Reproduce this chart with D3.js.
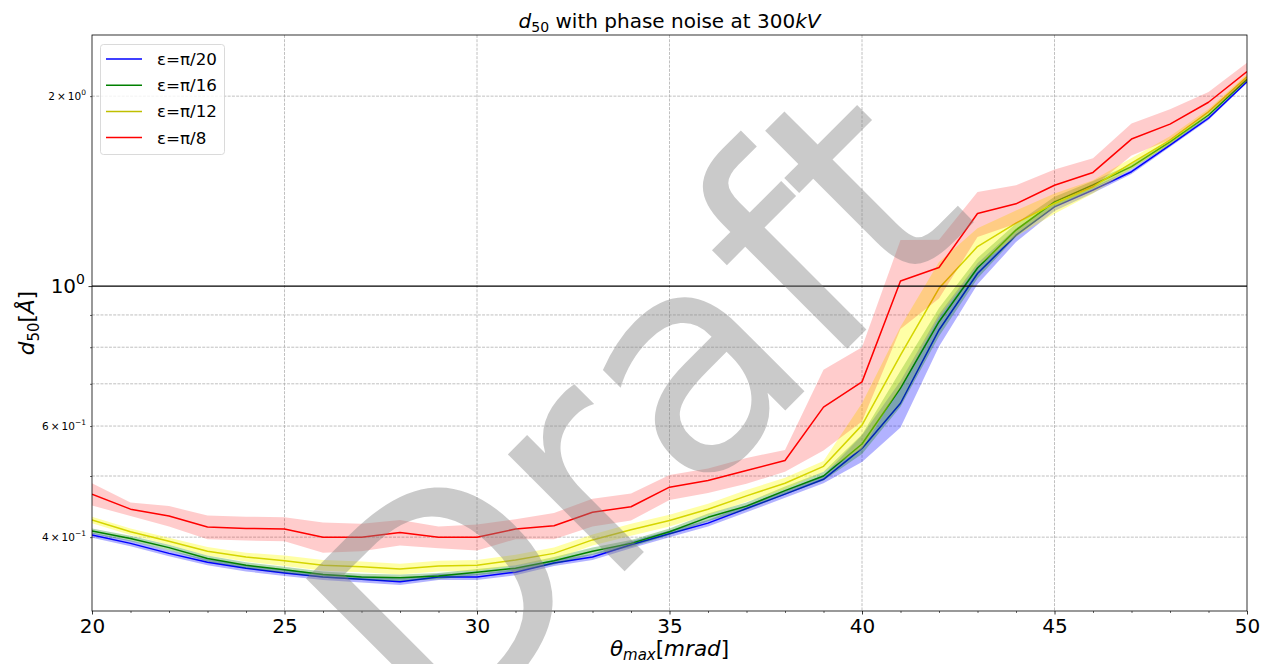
<!DOCTYPE html>
<html>
<head>
<meta charset="utf-8">
<script src="https://cdn.jsdelivr.net/npm/d3@7"></script>
<style>
  html, body { margin: 0; padding: 0; background: #fff; }
  svg { display: block; font-family: "DejaVu Sans", sans-serif; }
</style>
</head>
<body>
<svg id="chart" width="1272" height="664"></svg>
<script>
// Scattering angle cut-off, mrad
const thetaMax = [20, 21, 22, 23, 24, 25, 26, 27, 28, 29, 30, 31, 32, 33, 34, 35,
                  36, 37, 38, 39, 40, 41, 42, 43, 44, 45, 46, 47, 48, 49, 50];

// d50 mean and spread per phase-noise level
const meanPi20 = [0.403, 0.391, 0.377, 0.365, 0.357, 0.351, 0.346, 0.343, 0.340, 0.346, 0.346,
                  0.352, 0.364, 0.372, 0.389, 0.405, 0.421, 0.444, 0.468, 0.494, 0.553,
                  0.652, 0.852, 1.047, 1.204, 1.335, 1.420, 1.518, 1.673, 1.845, 2.108];
const stdPi20  = [0.004, 0.004, 0.004, 0.004, 0.004, 0.004, 0.004, 0.004, 0.004, 0.004, 0.004,
                  0.004, 0.004, 0.004, 0.005, 0.005, 0.005, 0.006, 0.006, 0.007, 0.027,
                  0.055, 0.050, 0.040, 0.030, 0.020, 0.015, 0.012, 0.012, 0.012, 0.010];

const meanPi16 = [0.409, 0.398, 0.385, 0.370, 0.361, 0.355, 0.349, 0.346, 0.345, 0.347, 0.352,
                  0.357, 0.367, 0.380, 0.391, 0.408, 0.430, 0.448, 0.474, 0.500, 0.562,
                  0.689, 0.878, 1.068, 1.227, 1.360, 1.447, 1.546, 1.693, 1.867, 2.127];
const stdPi16  = [0.004, 0.004, 0.004, 0.004, 0.004, 0.004, 0.004, 0.004, 0.004, 0.004, 0.004,
                  0.004, 0.005, 0.005, 0.005, 0.005, 0.006, 0.006, 0.007, 0.008, 0.020,
                  0.045, 0.045, 0.040, 0.030, 0.025, 0.020, 0.015, 0.015, 0.015, 0.015];

const meanPi12 = [0.426, 0.408, 0.394, 0.380, 0.372, 0.367, 0.361, 0.359, 0.356, 0.360, 0.361,
                  0.368, 0.377, 0.396, 0.411, 0.425, 0.443, 0.465, 0.487, 0.518, 0.602,
                  0.777, 0.992, 1.155, 1.258, 1.352, 1.437, 1.566, 1.703, 1.889, 2.147];
const stdPi12  = [0.005, 0.005, 0.005, 0.006, 0.006, 0.007, 0.007, 0.007, 0.007, 0.007, 0.007,
                  0.007, 0.008, 0.008, 0.009, 0.009, 0.009, 0.010, 0.010, 0.010, 0.050,
                  0.085, 0.100, 0.080, 0.060, 0.050, 0.035, 0.030, 0.025, 0.020, 0.020];

const meanPi8  = [0.468, 0.443, 0.432, 0.415, 0.413, 0.412, 0.400, 0.400, 0.407, 0.400, 0.400,
                  0.412, 0.417, 0.438, 0.447, 0.480, 0.492, 0.510, 0.529, 0.643, 0.705,
                  1.019, 1.070, 1.303, 1.350, 1.445, 1.514, 1.710, 1.806, 1.956, 2.187];
const stdPi8   = [0.019, 0.011, 0.016, 0.018, 0.018, 0.018, 0.022, 0.020, 0.019, 0.016, 0.019,
                  0.015, 0.020, 0.022, 0.022, 0.022, 0.022, 0.024, 0.021, 0.094, 0.095,
                  0.164, 0.114, 0.107, 0.095, 0.085, 0.080, 0.100, 0.100, 0.074, 0.073];

const seriesLabels = ["ε=π/20", "ε=π/16", "ε=π/12", "ε=π/8"];
const lineColors   = ["#0000ff", "#008000", "#bfbf00", "#ff0000"];
const bandColors   = ["#0000ff", "#008000", "#ffff00", "#ff0000"];
const bandAlpha    = [0.3, 0.3, 0.35, 0.2];

const xMajorTicks = [20, 25, 30, 35, 40, 45, 50];
const yMinorTicks = [0.4, 0.5, 0.6, 0.7, 0.8, 0.9, 2];
const yMinorLabels = [[0.4, "4", "−1"], [0.6, "6", "−1"], [2, "2", "0"]];

const means = [meanPi20, meanPi16, meanPi12, meanPi8];
const stds  = [stdPi20, stdPi16, stdPi12, stdPi8];

// ---- layout ----
const plot = { left: 92, top: 35, right: 1247, bottom: 611 };

const svg = d3.select("#chart");

const x = d3.scaleLinear().domain([20, 50]).range([plot.left, plot.right]);
const y = d3.scaleLog().domain([0.3055, 2.5]).range([plot.bottom, plot.top]);

const clipId = "plot-clip";
svg.append("defs").append("clipPath").attr("id", clipId)
  .append("rect")
  .attr("x", plot.left).attr("y", plot.top)
  .attr("width", plot.right - plot.left).attr("height", plot.bottom - plot.top);

// ---- grid ----
const grid = svg.append("g").attr("stroke", "#b0b0b0").attr("stroke-width", 0.8)
  .attr("stroke-dasharray", "2.96,1.28").attr("fill", "none");
xMajorTicks.slice(1, -1).forEach(t => {
  grid.append("line").attr("x1", x(t)).attr("x2", x(t))
    .attr("y1", plot.top).attr("y2", plot.bottom);
});
yMinorTicks.forEach(t => {
  grid.append("line").attr("x1", plot.left).attr("x2", plot.right)
    .attr("y1", y(t)).attr("y2", y(t));
});

// ---- series: line + spread band ----
const data = thetaMax.map((t, i) => ({ t, i }));
const marks = svg.append("g").attr("clip-path", `url(#${clipId})`);
means.forEach((m, s) => {
  const sd = stds[s];
  const line = d3.line().x(d => x(d.t)).y(d => y(m[d.i]));
  const area = d3.area().x(d => x(d.t))
    .y0(d => y(m[d.i] - sd[d.i])).y1(d => y(m[d.i] + sd[d.i]));
  marks.append("path").datum(data).attr("d", line)
    .attr("fill", "none").attr("stroke", lineColors[s]).attr("stroke-width", 1.5)
    .attr("stroke-linejoin", "round");
  marks.append("path").datum(data).attr("d", area)
    .attr("fill", bandColors[s]).attr("fill-opacity", bandAlpha[s]).attr("stroke", "none");
});

// reference level at 1 Å
marks.append("line")
  .attr("x1", plot.left).attr("x2", plot.right)
  .attr("y1", y(1)).attr("y2", y(1))
  .attr("stroke", "#000").attr("stroke-width", 1.2);

// ---- axes ----
const xAxis = d3.axisBottom(x).tickValues(xMajorTicks).tickSize(3.5).tickPadding(4)
  .tickFormat(d3.format("d"));
const gx = svg.append("g").attr("transform", `translate(0,${plot.bottom})`).call(xAxis);
gx.select(".domain").remove();
gx.selectAll("text").attr("font-size", 20).attr("fill", "#000")
  .attr("font-family", "DejaVu Sans");
gx.selectAll("line").attr("stroke", "#000").attr("stroke-width", 0.8);

const xMinor = d3.axisBottom(x).tickValues(thetaMax.filter(t => t % 5 !== 0))
  .tickSize(2).tickFormat("");
const gxm = svg.append("g").attr("transform", `translate(0,${plot.bottom})`).call(xMinor);
gxm.select(".domain").remove();
gxm.selectAll("line").attr("stroke", "#000").attr("stroke-width", 0.6);

const yMajor = d3.axisLeft(y).tickValues([1]).tickSize(3.5).tickFormat("");
const gy = svg.append("g").attr("transform", `translate(${plot.left},0)`).call(yMajor);
gy.select(".domain").remove();
gy.selectAll("line").attr("stroke", "#000").attr("stroke-width", 0.8);

const yMinor = d3.axisLeft(y).tickValues(yMinorTicks).tickSize(2).tickFormat("");
const gym = svg.append("g").attr("transform", `translate(${plot.left},0)`).call(yMinor);
gym.select(".domain").remove();
gym.selectAll("line").attr("stroke", "#000").attr("stroke-width", 0.6);

// 10^0 label
const major = svg.append("text").attr("x", plot.left - 7).attr("y", y(1) + 7)
  .attr("text-anchor", "end").attr("font-size", 20).attr("fill", "#000");
major.append("tspan").text("10");
major.append("tspan").attr("font-size", 14).attr("dy", -9).text("0");

// minor labels a × 10^b
yMinorLabels.forEach(([v, a, e]) => {
  const t = svg.append("text").attr("x", plot.left - 6).attr("y", y(v) + 3.8)
    .attr("text-anchor", "end").attr("font-size", 10.5).attr("fill", "#000");
  t.append("tspan").text(a + "\u2009×\u200910");
  t.append("tspan").attr("font-size", 7.5).attr("dy", -4.5).text(e);
});

// frame
svg.append("rect")
  .attr("x", plot.left).attr("y", plot.top)
  .attr("width", plot.right - plot.left).attr("height", plot.bottom - plot.top)
  .attr("fill", "none").attr("stroke", "#000").attr("stroke-width", 0.8);

// ---- title & axis labels ----
const title = svg.append("text").attr("x", (plot.left + plot.right) / 2).attr("y", 28)
  .attr("text-anchor", "middle").attr("font-size", 20).attr("fill", "#000");
title.append("tspan").attr("font-style", "italic").text("d");
title.append("tspan").attr("font-size", 14).attr("dy", 4).text("50");
title.append("tspan").attr("dy", -4).text(" with phase noise at 300");
title.append("tspan").attr("font-style", "italic").text("kV");

const xl = svg.append("text").attr("x", (plot.left + plot.right) / 2).attr("y", 656)
  .attr("text-anchor", "middle").attr("font-size", 21.5).attr("fill", "#000");
xl.append("tspan").attr("font-style", "italic").text("θ");
xl.append("tspan").attr("font-style", "italic").attr("font-size", 15).attr("dy", 4).text("max");
xl.append("tspan").attr("dy", -4).text("[");
xl.append("tspan").attr("font-style", "italic").text("mrad");
xl.append("tspan").text("]");

const yl = svg.append("text")
  .attr("transform", `translate(34,${(plot.top + plot.bottom) / 2}) rotate(-90)`)
  .attr("text-anchor", "middle").attr("font-size", 21.5).attr("fill", "#000");
yl.append("tspan").attr("font-style", "italic").text("d");
yl.append("tspan").attr("font-size", 15).attr("dy", 5).text("50");
yl.append("tspan").attr("dy", -5).text("[");
yl.append("tspan").attr("font-style", "italic").text("Å");
yl.append("tspan").text("]");

// ---- legend ----
const lg = svg.append("g");
lg.append("rect").attr("x", 100.5).attr("y", 44.5).attr("width", 124).attr("height", 110)
  .attr("rx", 3).attr("fill", "#fff").attr("fill-opacity", 0.8)
  .attr("stroke", "#d0d0d0").attr("stroke-width", 0.8);
seriesLabels.forEach((lab, s) => {
  const ly = 59 + s * 26.2;
  lg.append("line").attr("x1", 106).attr("x2", 142).attr("y1", ly).attr("y2", ly)
    .attr("stroke", lineColors[s]).attr("stroke-width", 1.5);
  lg.append("text").attr("x", 157).attr("y", ly + 6).attr("font-size", 16.7)
    .attr("fill", "#000").text(lab);
});

// ---- draft watermark ----
svg.append("text")
  .attr("transform", "translate(636,412) rotate(-45)")
  .attr("text-anchor", "middle").attr("dominant-baseline", "central")
  .attr("font-size", 302).attr("fill", "#808080").attr("fill-opacity", 0.42)
  .text("Draft");
</script>
</body>
</html>
